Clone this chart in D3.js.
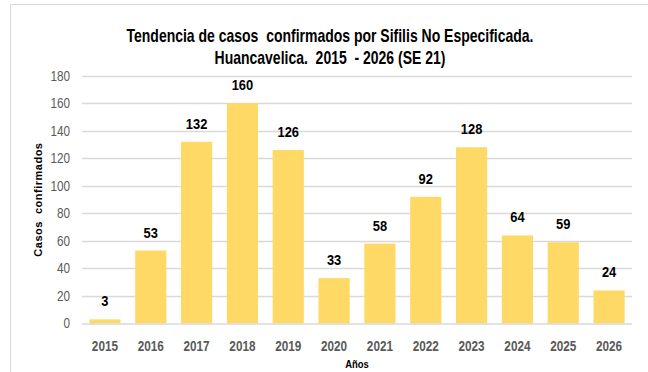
<!DOCTYPE html>
<html>
<head>
<meta charset="utf-8">
<script src="https://cdn.jsdelivr.net/npm/d3@7"></script>
<style>
  html, body { margin: 0; padding: 0; background: #fff; }
  svg { display: block; }
  text { font-family: "Liberation Sans", Arial, sans-serif; }
</style>
</head>
<body>
<svg id="chart" width="648" height="372"></svg>
<script>
// Yearly confirmed cases
const years = ["2015","2016","2017","2018","2019","2020","2021","2022","2023","2024","2025","2026"];
const cases = [3, 53, 132, 160, 126, 33, 58, 92, 128, 64, 59, 24];
const yTicks = [0, 20, 40, 60, 80, 100, 120, 140, 160, 180];
const titleLines = [
  "Tendencia de casos  confirmados por Sifilis No Especificada.",
  "Huancavelica.  2015  - 2026 (SE 21)"
];

const svg = d3.select("#chart");
const W = 648, H = 372;
const margin = { left: 82, right: 16, top: 75.7, bottom: 48.5 };

// condense a text element horizontally around its anchor
function condense(sel, k) {
  sel.each(function () {
    const t = d3.select(this);
    const ax = +t.attr("x") || 0;
    const ay = +t.attr("y") || 0;
    t.attr("x", 0).attr("y", 0)
     .attr("transform", `translate(${ax},${ay}) scale(${k},1)`);
  });
}

// outer chart frame
svg.append("rect")
  .attr("x", 10.5).attr("y", 4.5)
  .attr("width", W + 10).attr("height", H + 10)
  .attr("fill", "#fff").attr("stroke", "#d9d9d9").attr("stroke-width", 1);

const x = d3.scaleBand()
  .domain(years)
  .range([margin.left, W - margin.right])
  .paddingInner(0.32).paddingOuter(0.16);

const y = d3.scaleLinear()
  .domain([0, 180])
  .range([H - margin.bottom, margin.top]);

// horizontal gridlines
svg.append("g")
  .selectAll("line")
  .data(yTicks.filter(d => d > 0))
  .join("line")
  .attr("x1", margin.left).attr("x2", W - margin.right)
  .attr("y1", d => Math.round(y(d)) + 0.5).attr("y2", d => Math.round(y(d)) + 0.5)
  .attr("stroke", "#d9d9d9").attr("stroke-width", 1.3);

// y axis labels
const yAxis = d3.axisLeft(y).tickValues(yTicks).tickSize(0).tickPadding(12);
const gy = svg.append("g")
  .attr("transform", `translate(${margin.left},0)`)
  .call(yAxis);
gy.select(".domain").remove();
gy.selectAll("text")
  .attr("fill", "#595959")
  .style("font-size", "14px")
  .call(condense, 0.84);

// bars
const rows = years.map((yr, i) => ({ yr, v: cases[i] }));
svg.append("g")
  .selectAll("rect")
  .data(rows)
  .join("rect")
  .attr("x", d => x(d.yr))
  .attr("y", d => y(d.v))
  .attr("width", x.bandwidth())
  .attr("height", d => y(0) - y(d.v))
  .attr("fill", "#ffd966");

// baseline
svg.append("line")
  .attr("x1", margin.left).attr("x2", W - margin.right)
  .attr("y1", y(0) + 0.5).attr("y2", y(0) + 0.5)
  .attr("stroke", "#d9d9d9").attr("stroke-width", 1.5);

// value labels
svg.append("g")
  .selectAll("text")
  .data(rows)
  .join("text")
  .attr("x", d => x(d.yr) + x.bandwidth() / 2)
  .attr("y", d => y(d.v) - 13)
  .attr("text-anchor", "middle")
  .attr("fill", "#000")
  .style("font-size", "15px")
  .style("font-weight", "bold")
  .text(d => d.v)
  .call(condense, 0.86);

// x axis labels
const xAxis = d3.axisBottom(x).tickSize(0).tickPadding(18);
const gx = svg.append("g")
  .attr("transform", `translate(0,${y(0)})`)
  .call(xAxis);
gx.select(".domain").remove();
gx.selectAll("text")
  .attr("fill", "#595959")
  .style("font-size", "14px")
  .style("font-weight", "bold")
  .call(condense, 0.84);

// axis titles
svg.append("text")
  .attr("transform", `translate(42,${(y(0) + y(180)) / 2}) rotate(-90)`)
  .attr("text-anchor", "middle")
  .style("font-size", "11px")
  .style("font-weight", "bold")
  .style("letter-spacing", "0.5px")
  .style("white-space", "pre")
  .attr("fill", "#000")
  .text("Casos  confirmados");

svg.append("text")
  .attr("x", 357).attr("y", 368)
  .attr("text-anchor", "middle")
  .style("font-size", "10.5px")
  .style("font-weight", "bold")
  .attr("fill", "#000")
  .text("Años")
  .call(condense, 0.9);

// title
svg.append("g")
  .selectAll("text")
  .data(titleLines)
  .join("text")
  .attr("x", 330)
  .attr("y", (d, i) => 42 + i * 22)
  .attr("text-anchor", "middle")
  .attr("fill", "#000")
  .style("font-size", "17.5px")
  .style("font-weight", "bold")
  .style("white-space", "pre")
  .text(d => d)
  .call(condense, 0.8);
</script>
</body>
</html>
